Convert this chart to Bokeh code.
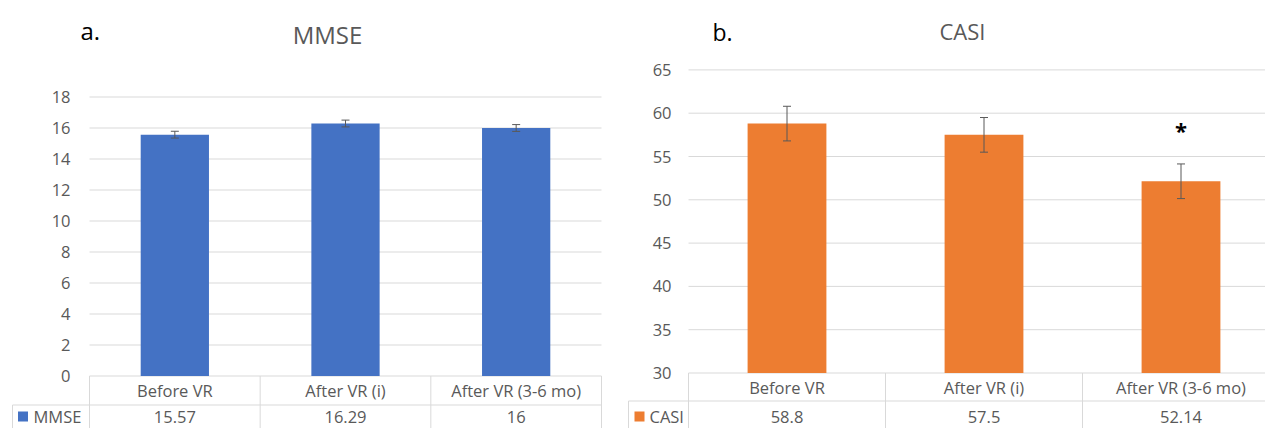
from bokeh.plotting import figure
from bokeh.layouts import row
from bokeh.models import Range1d, FixedTicker, ColumnDataSource, Whisker, TeeHead, Label
from bokeh.embed import file_html
from bokeh.resources import INLINE
from bokeh.core.properties import value

# ---------------- data ----------------
categories = ["Before VR", "After VR (i)", "After VR (3-6 mo)"]
mmse_values = [15.57, 16.29, 16]
mmse_errors = [0.22, 0.22, 0.22]
mmse_labels = ["15.57", "16.29", "16"]
mmse_ticks = [0, 2, 4, 6, 8, 10, 12, 14, 16, 18]

casi_values = [58.8, 57.5, 52.14]
casi_errors = [2.0, 2.0, 2.0]
casi_labels = ["58.8", "57.5", "52.14"]
casi_ticks = [30, 35, 40, 45, 50, 55, 60, 65]
casi_sig = ["", "", "*"]

# ---------------- style ----------------
FONT = "Open Sans"
GRAY = "#595959"
GRID = "#D9D9D9"
BLUE = "#4472C4"
ORANGE = "#ED7D31"
TICK_SIZE = "16.5px"
HEIGHT = 428


def make_panel(name, letter, values, errors, labels, ticks, color, width,
               frame_left, cat0, cat_px, base, base_px, ppu, row_px, val_px, label_right,
               title_px, title_size, letter_px, letter_size,
               sq_px, txt_px, border_px, sig=None, sig_offset=0.0):
    """All *_px arguments are pixel positions on the panel canvas."""
    n = len(categories)
    xs = [i + 0.5 for i in range(n)]

    def dx(px):
        return (px - cat0) / cat_px

    def dy(py):
        return base + (base_px - py) / ppu

    p = figure(width=width, height=HEIGHT,
               x_range=Range1d(dx(frame_left), dx(width)),
               y_range=Range1d(dy(HEIGHT), dy(0)),
               output_backend="svg", toolbar_location=None,
               x_axis_location=None,
               min_border_left=frame_left, min_border_right=0,
               min_border_top=0, min_border_bottom=0)
    p.outline_line_color = None
    p.background_fill_color = "white"
    p.border_fill_color = "white"
    p.grid.visible = False

    ax = p.yaxis[0]
    ax.ticker = FixedTicker(ticks=ticks)
    ax.axis_line_color = None
    ax.major_tick_line_color = None
    ax.minor_tick_line_color = None
    ax.major_tick_out = 0
    ax.major_tick_in = 0
    ax.major_label_standoff = -(label_right - frame_left)
    ax.major_label_text_font = FONT
    ax.major_label_text_font_size = TICK_SIZE
    ax.major_label_text_color = GRAY

    # horizontal gridlines at the tick values, across the category area
    p.segment(x0=[0] * len(ticks), y0=ticks, x1=[n] * len(ticks), y1=ticks,
              line_color=GRID, line_width=1)

    src = ColumnDataSource(dict(
        x=xs, top=values,
        upper=[v + e for v, e in zip(values, errors)],
        lower=[v - e for v, e in zip(values, errors)],
    ))
    p.vbar(x="x", top="top", bottom=base, width=0.4, source=src,
           fill_color=color, line_color=None)
    w = Whisker(source=src, base="x", upper="upper", lower="lower",
                dimension="height", line_color=GRAY, line_width=1,
                upper_head=TeeHead(size=8, line_color=GRAY, line_width=1),
                lower_head=TeeHead(size=8, line_color=GRAY, line_width=1))
    w.level = "overlay"
    p.add_layout(w)

    if sig is not None:
        ssrc = ColumnDataSource(dict(
            x=xs, y=[v + e + sig_offset for v, e in zip(values, errors)], t=sig))
        p.text(x="x", y="y", text="t", source=ssrc, text_font=value(FONT),
               text_font_size=value("22px"), text_font_style="bold",
               text_color="black", text_align="center", text_baseline="middle")

    p.add_layout(Label(x=dx(title_px[0]), y=dy(title_px[1]), text=name,
                       text_font=FONT, text_font_size=title_size, text_color=GRAY,
                       text_align="center", text_baseline="middle"))
    p.add_layout(Label(x=dx(letter_px[0]), y=dy(letter_px[1]), text=letter,
                       text_font=FONT, text_font_size=letter_size, text_color="black",
                       text_align="left", text_baseline="middle"))

    # ---------- data table under the chart ----------
    y_sep = dy(base_px + row_px)
    y_bot = dy(HEIGHT)
    y_head = dy(base_px + row_px / 2)
    y_val = dy(val_px)
    bounds = list(range(n + 1))
    p.segment(x0=bounds, y0=[y_bot] * len(bounds), x1=bounds, y1=[base] * len(bounds),
              line_color=GRID, line_width=1)
    left_edge = dx(border_px)
    p.segment(x0=[left_edge], y0=[y_bot], x1=[left_edge], y1=[y_sep],
              line_color=GRID, line_width=1)
    p.segment(x0=[left_edge], y0=[y_sep], x1=[n], y1=[y_sep],
              line_color=GRID, line_width=1)

    p.text(x=xs, y=[y_head] * n, text=categories, text_font=value(FONT),
           text_font_size=value(TICK_SIZE), text_color=GRAY,
           text_align="center", text_baseline="middle")
    p.text(x=xs, y=[y_val] * n, text=labels, text_font=value(FONT),
           text_font_size=value(TICK_SIZE), text_color=GRAY,
           text_align="center", text_baseline="middle")
    p.scatter(x=[dx(sq_px)], y=[y_val], marker="square", size=10,
              fill_color=color, line_color=None)
    p.text(x=[dx(txt_px)], y=[y_val], text=[name], text_font=value(FONT),
           text_font_size=value(TICK_SIZE), text_color=GRAY,
           text_align="left", text_baseline="middle")
    return p


# pixel positions measured on the reference picture (panel canvas coordinates)
left = make_panel("MMSE", "a.", mmse_values, mmse_errors, mmse_labels, mmse_ticks, BLUE,
                  width=620, frame_left=10, cat0=89, cat_px=512 / 3,
                  base=0, base_px=375.5, ppu=15.5, row_px=29, val_px=416,
                  label_right=70,
                  title_px=(327, 33.5), title_size="24px",
                  letter_px=(80, 30), letter_size="24px",
                  sq_px=22.5, txt_px=33, border_px=12)

right = make_panel("CASI", "b.", casi_values, casi_errors, casi_labels, casi_ticks, ORANGE,
                   width=645, frame_left=2, cat0=68, cat_px=197.0,
                   base=30, base_px=372.5, ppu=8.66, row_px=28, val_px=416,
                   label_right=51,
                   title_px=(342, 30.5), title_size="22px",
                   letter_px=(92, 31), letter_size="23px",
                   sq_px=19, txt_px=29, border_px=8,
                   sig=casi_sig, sig_offset=3.95)

layout = row(left, right, spacing=0)
open("out.html", "w").write(file_html(layout, INLINE))
